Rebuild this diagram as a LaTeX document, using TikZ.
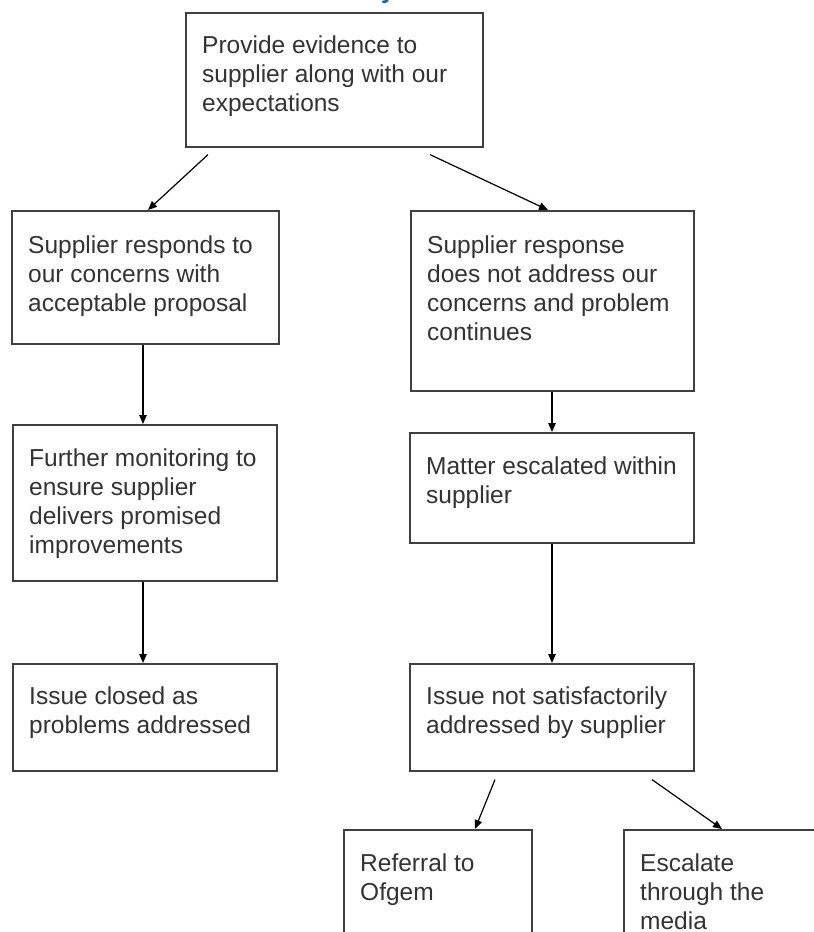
\documentclass[tikz,border=0pt]{standalone}
\usepackage{fontspec}
\setmainfont{Liberation Sans}
\usetikzlibrary{calc,arrows.meta}
\definecolor{boxline}{HTML}{404040}
\definecolor{txtcol}{HTML}{333333}
\definecolor{headblue}{HTML}{1A5FA8}
\tikzset{
  stepbox/.style={draw=boxline, line width=1.6pt, rectangle, anchor=north west, inner sep=0pt, fill=white},
  boxtext/.style={anchor=north west, inner sep=0pt, align=left, text=txtcol,
    font=\fontsize{24.5}{28.8}\selectfont},
  flow/.style={draw=black, line width=1.2pt, -{Triangle[length=9pt,width=7.5pt]}}
}
\begin{document}
\begin{tikzpicture}[x=1pt,y=-1pt]
\useasboundingbox (0,0) rectangle (814,932);
\clip (0,0) rectangle (814,932);
% fragment of blue heading above the chart
\node[anchor=base, inner sep=0pt, text=headblue, font=\fontsize{24.5}{28}\selectfont\bfseries] (head) at (388,-2) {y};
% boxes
\node[stepbox, minimum width=297pt, minimum height=134pt] (top) at (185,12) {};
\node[stepbox, minimum width=267pt, minimum height=133pt] (l1) at (11,210) {};
\node[stepbox, minimum width=283pt, minimum height=180pt] (r1) at (410,210) {};
\node[stepbox, minimum width=264pt, minimum height=156pt] (l2) at (12,424) {};
\node[stepbox, minimum width=284pt, minimum height=110pt] (r2) at (409,432) {};
\node[stepbox, minimum width=264pt, minimum height=107pt] (l3) at (12,663) {};
\node[stepbox, minimum width=284pt, minimum height=107pt] (r3) at (409,663) {};
\node[stepbox, minimum width=188pt, minimum height=150pt] (b1) at (343,829) {};
\node[stepbox, minimum width=250pt, minimum height=150pt] (b2) at (623,829) {};
% texts
\node[boxtext] (ttop) at ($(top.north west)+(17,24)$) {Provide evidence to\\supplier along with our\\expectations};
\node[boxtext] (tl1) at ($(l1.north west)+(17,26)$) {Supplier responds to\\our concerns with\\acceptable proposal};
\node[boxtext] (tr1) at ($(r1.north west)+(17,26)$) {Supplier response\\does not address our\\concerns and problem\\continues};
\node[boxtext] (tl2) at ($(l2.north west)+(17,25)$) {Further monitoring to\\ensure supplier\\delivers promised\\improvements};
\node[boxtext] (tr2) at ($(r2.north west)+(17,25)$) {Matter escalated within\\supplier};
\node[boxtext] (tl3) at ($(l3.north west)+(17,24)$) {Issue closed as\\problems addressed};
\node[boxtext] (tr3) at ($(r3.north west)+(17,24)$) {Issue not satisfactorily\\addressed by supplier};
\node[boxtext] (tb1) at ($(b1.north west)+(17,25)$) {Referral to\\Ofgem};
\node[boxtext] (tb2) at ($(b2.north west)+(17,25)$) {Escalate\\through the\\media};
% connectors
\draw[flow] ($(top.south west)+(23,7)$) -- ($(l1.north west)+(137,0)$);
\draw[flow] ($(top.south west)+(245,7)$) -- ($(r1.north west)+(138,0)$);
\draw[flow] ($(l1.south west)+(132,0)$) -- ($(l2.north west)+(131,0)$);
\draw[flow] ($(r1.south west)+(142,0)$) -- ($(r2.north west)+(143,0)$);
\draw[flow] ($(l2.south west)+(131,0)$) -- ($(l3.north west)+(131,0)$);
\draw[flow] ($(r2.south west)+(143,0)$) -- ($(r3.north west)+(143,0)$);
\draw[flow] ($(r3.south west)+(86,8)$) -- ($(b1.north west)+(132,0)$);
\draw[flow] ($(r3.south west)+(243,8)$) -- ($(b2.north west)+(99,0)$);
\end{tikzpicture}
\end{document}
